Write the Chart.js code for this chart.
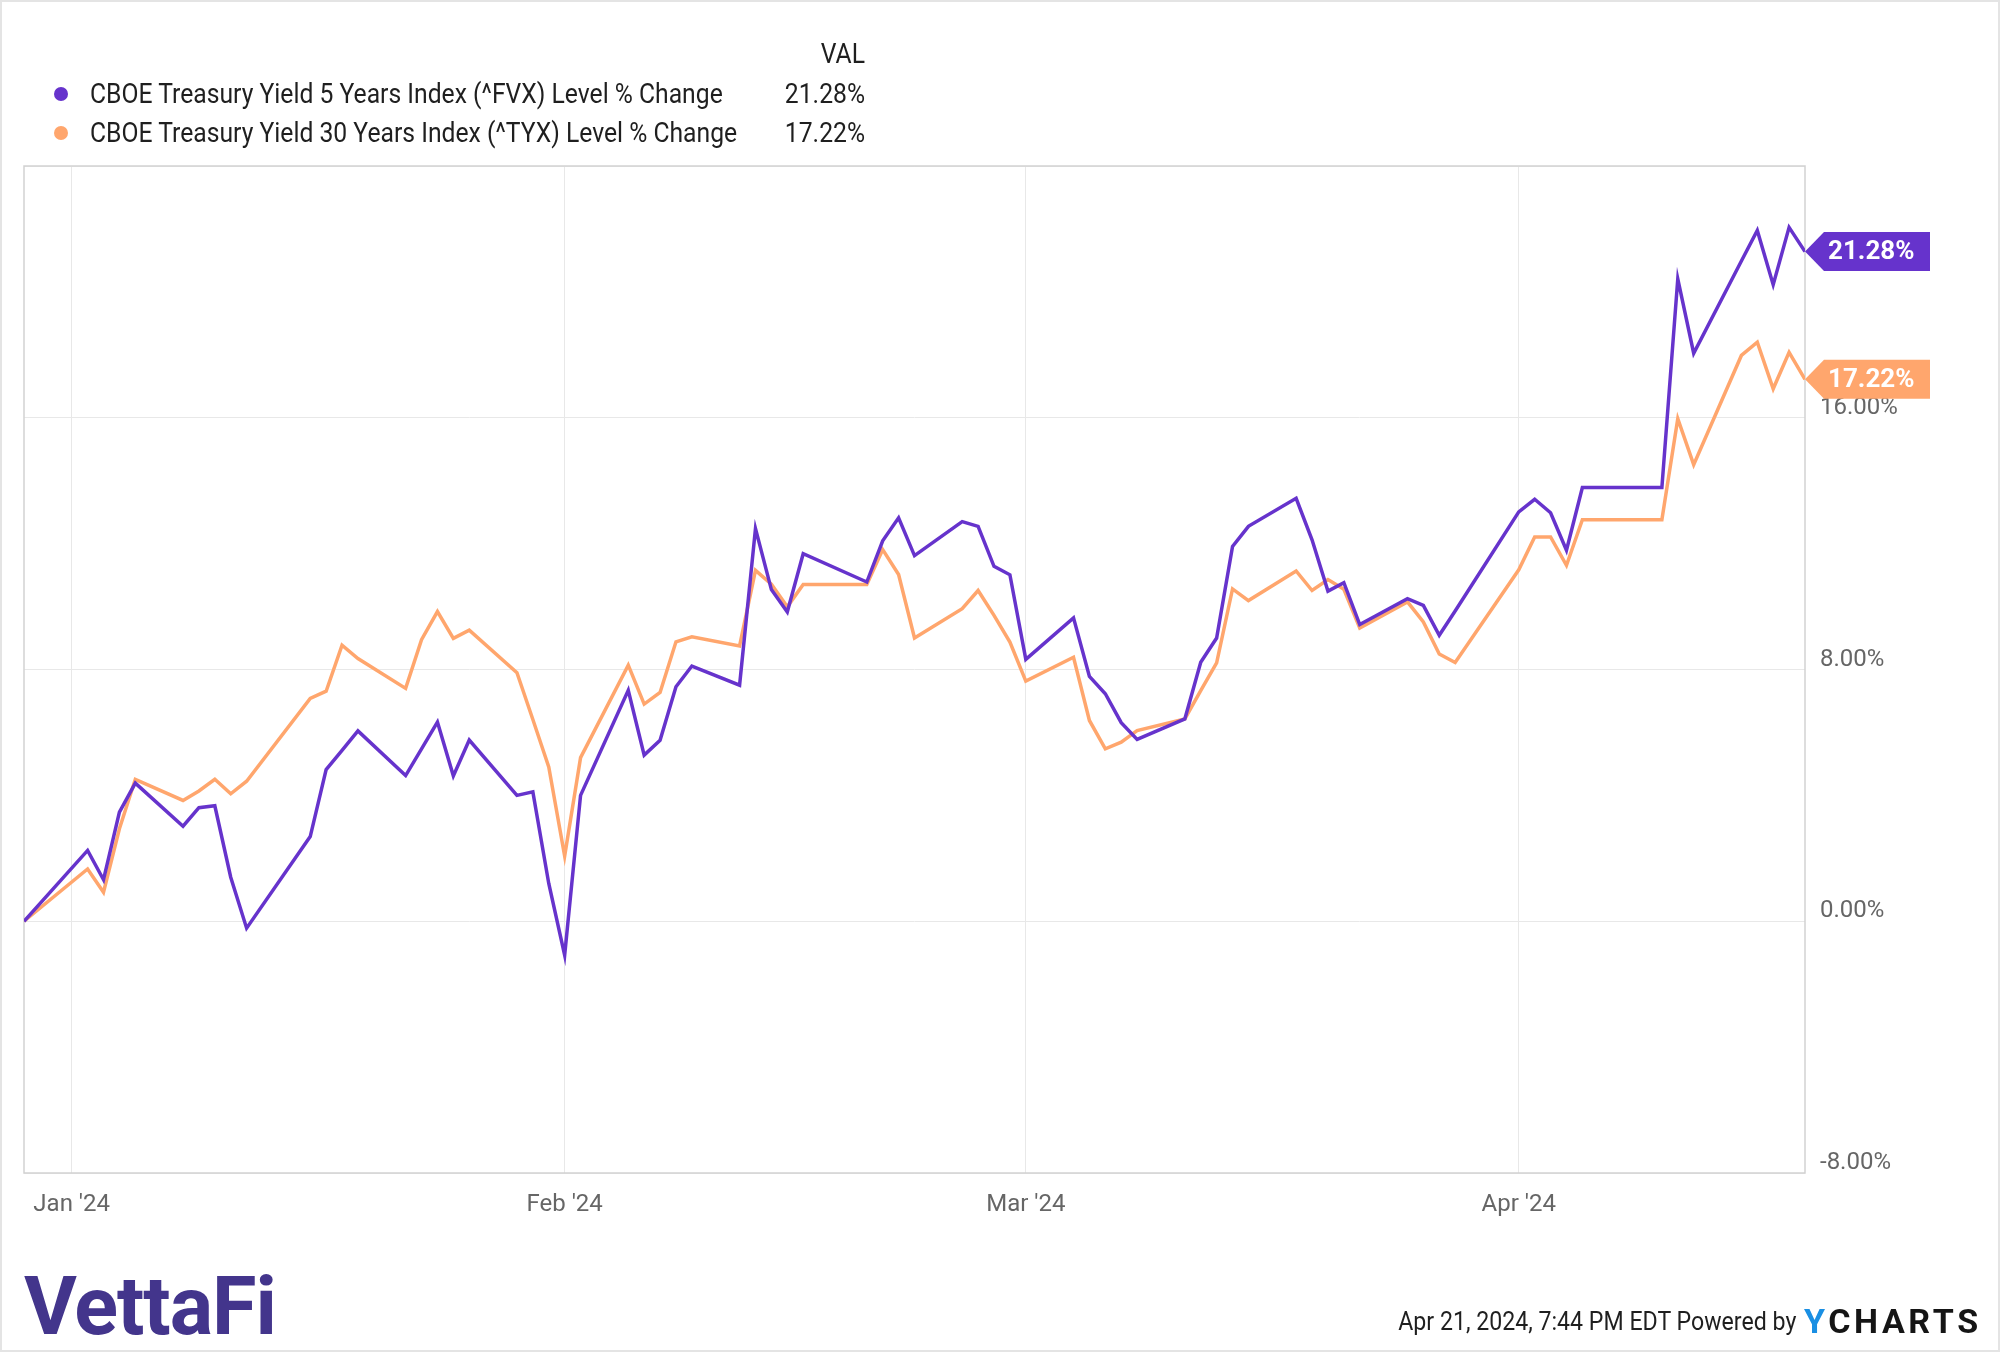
<!DOCTYPE html>
<html>
<head>
<meta charset="utf-8">
<script src="https://cdn.jsdelivr.net/npm/chart.js@4.4.1/dist/chart.umd.min.js"></script>
<style>
  html, body { margin: 0; padding: 0; background: #fff; }
  #page { position: relative; width: 2000px; height: 1352px; font-family: Roboto, sans-serif; overflow: hidden; }
  #frame { position: absolute; left: 0; top: 0; width: 2000px; height: 1352px; box-sizing: border-box; border: 2px solid #e4e4e4; pointer-events: none; }
  #yield-chart { position: absolute; left: 0; top: 0; }
  /* narrow text, like the condensed face used in the original */
  .txt { position: absolute; font-size: 27px; line-height: 32px; color: #1f1f1f; white-space: nowrap; transform: scaleX(0.915); transform-origin: left center; }
  .val { text-align: right; width: 140px; transform-origin: right center; }
  .dot { position: absolute; width: 14px; height: 14px; border-radius: 50%; }
  #vettafi { position: absolute; left: 24px; top: 1266px; font-size: 81px; line-height: 82px; font-weight: 700; color: #43358c; letter-spacing: -1px; }
  #stamp { position: absolute; right: 204px; top: 1305px; font-size: 26px; line-height: 32px; color: #1f1f1f; white-space: nowrap; transform: scaleX(0.89); transform-origin: right center; }
  #ycharts { position: absolute; left: 1804px; top: 1302px; font-size: 34px; line-height: 38px; font-weight: 700; letter-spacing: 3.6px; color: #151515; }
  #ycharts span { color: #1a8fe3; }
</style>
</head>
<body>
<div id="page">
  <canvas id="yield-chart" width="2000" height="1352"></canvas>

  <div class="txt val" style="left:725px; top:38px;">VAL</div>
  <div class="dot" style="left:54px; top:87px; background:#6633cc;"></div>
  <div class="txt" style="left:90px; top:78px;">CBOE Treasury Yield 5 Years Index (^FVX) Level % Change</div>
  <div class="txt val" style="left:725px; top:78px;">21.28%</div>
  <div class="dot" style="left:54px; top:126px; background:#ffa66d;"></div>
  <div class="txt" style="left:90px; top:117px;">CBOE Treasury Yield 30 Years Index (^TYX) Level % Change</div>
  <div class="txt val" style="left:725px; top:117px;">17.22%</div>

  <div id="vettafi">VettaFi</div>
  <div id="stamp">Apr 21, 2024, 7:44 PM EDT Powered by</div>
  <div id="ycharts"><span>Y</span>CHARTS</div>
  <div id="frame"></div>
</div>

<script>
  // trading days shown on the chart
  const dates = [
    '2023-12-29', '2024-01-02', '2024-01-03', '2024-01-04', '2024-01-05',
    '2024-01-08', '2024-01-09', '2024-01-10', '2024-01-11', '2024-01-12',
    '2024-01-16', '2024-01-17', '2024-01-18', '2024-01-19',
    '2024-01-22', '2024-01-23', '2024-01-24', '2024-01-25', '2024-01-26',
    '2024-01-29', '2024-01-30', '2024-01-31', '2024-02-01', '2024-02-02',
    '2024-02-05', '2024-02-06', '2024-02-07', '2024-02-08', '2024-02-09',
    '2024-02-12', '2024-02-13', '2024-02-14', '2024-02-15', '2024-02-16',
    '2024-02-20', '2024-02-21', '2024-02-22', '2024-02-23',
    '2024-02-26', '2024-02-27', '2024-02-28', '2024-02-29', '2024-03-01',
    '2024-03-04', '2024-03-05', '2024-03-06', '2024-03-07', '2024-03-08',
    '2024-03-11', '2024-03-12', '2024-03-13', '2024-03-14', '2024-03-15',
    '2024-03-18', '2024-03-19', '2024-03-20', '2024-03-21', '2024-03-22',
    '2024-03-25', '2024-03-26', '2024-03-27', '2024-03-28',
    '2024-04-01', '2024-04-02', '2024-04-03', '2024-04-04', '2024-04-05',
    '2024-04-08', '2024-04-09', '2024-04-10', '2024-04-11', '2024-04-12',
    '2024-04-15', '2024-04-16', '2024-04-17', '2024-04-18', '2024-04-19'
  ];

  // ^FVX level % change
  const fvxChange = [
    0, 2.25, 1.32, 3.47, 4.39,
    3.02, 3.61, 3.67, 1.40, -0.22,
    2.69, 4.82, 5.43, 6.05,
    4.63, 5.48, 6.33, 4.62, 5.76,
    4.00, 4.11, 1.20, -1.08, 4.00,
    7.34, 5.28, 5.75, 7.45, 8.11,
    7.50, 12.48, 10.54, 9.83, 11.68,
    10.78, 12.09, 12.82, 11.62,
    12.70, 12.55, 11.28, 11.01, 8.32,
    9.64, 7.78, 7.23, 6.31, 5.78,
    6.43, 8.23, 9.00, 11.91, 12.55,
    13.44, 12.12, 10.49, 10.76, 9.43,
    10.25, 10.04, 9.09, 9.86,
    13.01, 13.41, 12.98, 11.79, 13.78,
    13.78, 13.78, 13.78, 20.41, 18.05,
    20.98, 21.95, 20.23, 22.05, 21.28
  ];

  // ^TYX level % change
  const tyxChange = [
    0, 1.66, 0.92, 2.94, 4.51,
    3.84, 4.14, 4.51, 4.05, 4.45,
    7.08, 7.31, 8.77, 8.35,
    7.40, 8.95, 9.84, 8.99, 9.25,
    7.90, 6.41, 4.90, 2.07, 5.20,
    8.14, 6.90, 7.27, 8.88, 9.04,
    8.75, 11.15, 10.71, 9.99, 10.70,
    10.70, 11.81, 11.02, 9.00,
    9.93, 10.51, 9.72, 8.87, 7.63,
    8.39, 6.38, 5.48, 5.69, 6.06,
    6.43, 7.33, 8.21, 10.56, 10.19,
    11.13, 10.51, 10.86, 10.55, 9.32,
    10.15, 9.51, 8.49, 8.22,
    11.17, 12.21, 12.21, 11.31, 12.76,
    12.76, 12.76, 12.76, 15.97, 14.51,
    17.98, 18.40, 16.92, 18.08, 17.22
  ];

  const monthTicks = ['2024-01-01', '2024-02-01', '2024-03-01', '2024-04-01'];
  const monthLabels = ["Jan '24", "Feb '24", "Mar '24", "Apr '24"];
  const yTicks = [-8, 0, 8, 16, 24];

  const PURPLE = '#6633cc';
  const ORANGE = '#ffa66d';

  const startMs = Date.parse(dates[0]);
  const toDay = d => (Date.parse(d) - startMs) / 864e5;
  const fvxPoints = dates.map((d, i) => ({ x: toDay(d), y: fvxChange[i] }));
  const tyxPoints = dates.map((d, i) => ({ x: toDay(d), y: tyxChange[i] }));

  // plot frame + end-of-line value tags
  const frameAndTags = {
    id: 'frameAndTags',
    beforeDatasetsDraw(chart) {
      const { ctx, chartArea: a } = chart;
      ctx.save();
      ctx.strokeStyle = '#d2d2d2';
      ctx.lineWidth = 1.5;
      ctx.strokeRect(a.left, a.top, a.right - a.left, a.bottom - a.top);
      ctx.restore();
    },
    afterDatasetsDraw(chart) {
      const { ctx, chartArea: a } = chart;
      chart.data.datasets.forEach((ds, i) => {
        const pts = chart.getDatasetMeta(i).data;
        const y = pts[pts.length - 1].y;
        const x0 = a.right, h = 19.5, right = 1930;
        ctx.save();
        ctx.fillStyle = ds.borderColor;
        ctx.beginPath();
        ctx.moveTo(x0, y);
        ctx.lineTo(x0 + 19, y - h);
        ctx.lineTo(right, y - h);
        ctx.lineTo(right, y + h);
        ctx.lineTo(x0 + 19, y + h);
        ctx.closePath();
        ctx.fill();
        ctx.fillStyle = '#fff';
        ctx.font = 'bold 26px Roboto';
        ctx.textBaseline = 'middle';
        ctx.fillText(ds.data[ds.data.length - 1].y.toFixed(2) + '%', x0 + 23, y + 1);
        ctx.restore();
      });
    }
  };

  const ctx = document.getElementById('yield-chart').getContext('2d');
  new Chart(ctx, {
    type: 'line',
    data: {
      datasets: [{
        label: 'CBOE Treasury Yield 5 Years Index (^FVX) Level % Change',
        data: fvxPoints,
        borderColor: PURPLE,
        borderWidth: 3.5,
        pointRadius: 0,
        tension: 0
      }, {
        label: 'CBOE Treasury Yield 30 Years Index (^TYX) Level % Change',
        data: tyxPoints,
        borderColor: ORANGE,
        borderWidth: 3.5,
        pointRadius: 0,
        tension: 0
      }]
    },
    options: {
      responsive: false,
      animation: false,
      layout: { padding: { left: 24, top: 166, right: 0, bottom: 0 } },
      plugins: {
        legend: { display: false },
        tooltip: { enabled: false }
      },
      scales: {
        x: {
          type: 'linear',
          min: 0,
          max: toDay(dates[dates.length - 1]),
          afterBuildTicks: s => { s.ticks = monthTicks.map(d => ({ value: toDay(d) })); },
          afterFit: s => { s.height = 179; },
          grid: { color: '#e8e8e8', lineWidth: 1, drawTicks: false },
          border: { display: false },
          ticks: {
            padding: 18,
            color: '#666',
            maxRotation: 0,
            font: { family: 'Roboto', size: 24 },
            callback: (v, i) => monthLabels[i]
          }
        },
        y: {
          position: 'right',
          min: -8,
          max: 24,
          afterBuildTicks: s => { s.ticks = yTicks.map(v => ({ value: v })); },
          afterFit: s => { s.width = 195; },
          grid: { color: '#e8e8e8', lineWidth: 1, drawTicks: false },
          border: { display: false },
          ticks: {
            padding: 15,
            labelOffset: -10,
            color: '#666',
            font: { family: 'Roboto', size: 24 },
            callback: v => v === 24 ? '' : v.toFixed(2) + '%'
          }
        }
      }
    },
    plugins: [frameAndTags]
  });
</script>
</body>
</html>
